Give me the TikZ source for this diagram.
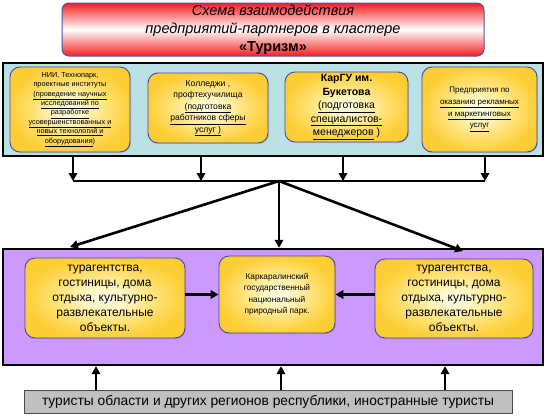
\documentclass[tikz,border=0pt]{standalone}
\usepackage{fontspec}
\setmainfont{Liberation Sans}
\usetikzlibrary{arrows.meta,shadows}
\definecolor{titlered}{RGB}{245,30,30}
\definecolor{titleborder}{RGB}{80,80,180}
\definecolor{topfill}{RGB}{186,226,228}
\definecolor{purplefill}{RGB}{204,153,255}
\definecolor{boxborder}{RGB}{70,70,170}
\definecolor{grayfill}{RGB}{192,192,192}
\pgfdeclareradialshading{goldglow}{\pgfpoint{0bp}{0bp}}{rgb(0bp)=(1,1,0.92); rgb(6bp)=(1,0.97,0.78); rgb(16bp)=(1,0.88,0.45); rgb(25bp)=(0.99,0.81,0.22); rgb(50bp)=(0.98,0.78,0.12)}
\tikzset{
  container/.style={draw=black, line width=2.4pt, inner sep=0pt},
  goldbox/.style={draw=boxborder, line width=0.9pt, rounded corners=10pt, shading=goldglow, align=center, inner sep=1pt, drop shadow={shadow xshift=1pt, shadow yshift=-1pt, opacity=0.3}},
  arr/.style={line width=2.6pt, -{Triangle[length=8pt,width=8.5pt]}},
  busline/.style={line width=2.6pt},
}
\begin{document}
\begin{tikzpicture}[x=1pt,y=-1pt]
\useasboundingbox (0,0) rectangle (545,415);
% title
\node[draw=titleborder, line width=1pt, rounded corners=7pt, top color=titlered, bottom color=titlered, middle color=white, minimum width=422pt, minimum height=53pt, align=center, inner sep=0pt, font=\fontsize{14.5}{18}\selectfont] (title) at (273,29.5)
  {\textit{Схема взаимодействия}\\ \textit{предприятий-партнеров в кластере}\\ \textbf{«Туризм»}};
% top container
\node[container, fill=topfill, minimum width=540pt, minimum height=93pt] (top) at (273,109.5) {};
\node[goldbox, minimum width=120pt, minimum height=85pt, font=\fontsize{7.3}{9.4}\selectfont] (n1) at (70,109.5)
  {НИИ, Технопарк,\\ проектные институты\\ \underline{(проведение научных}\\ \underline{исследований по}\\ \underline{разработке}\\ \underline{усовершенствованных и}\\ \underline{новых технологий и}\\ \underline{оборудования})};
\node[goldbox, minimum width=120pt, minimum height=70pt, font=\fontsize{8.6}{11.5}\selectfont] (n2) at (208,108)
  {Колледжи ,\\ профтехучилища\\ \underline{(подготовка}\\ \underline{работников сферы}\\ \underline{услуг )}};
\node[goldbox, minimum width=123pt, minimum height=70pt, font=\fontsize{10.5}{13.5}\selectfont] (n3) at (346.5,107)
  {\textbf{КарГУ им.}\\ \textbf{Букетова}\\ \underline{(подготовка}\\ \underline{специалистов-}\\ \underline{менеджеров} )};
\node[goldbox, minimum width=115pt, minimum height=85pt, font=\fontsize{8}{11.7}\selectfont] (n4) at (479.5,109.5)
  {Предприятия по\\ \underline{оказанию рекламных}\\ \underline{и маркетинговых}\\ \underline{услуг}};
% bus
\coordinate (b1) at (73,181);
\coordinate (b2) at (201,181);
\coordinate (b3) at (343,181);
\coordinate (b4) at (485,181);
\coordinate (hub) at (279,181);
\draw[busline] (b1) -- (b4);
\foreach \b in {b1,b2,b3,b4} \draw[arr] (\b |- top.south) -- (\b);
% bottom container
\node[container, fill=purplefill, minimum width=540pt, minimum height=116pt] (mid) at (273,307) {};
\coordinate (t1) at (70,247);
\coordinate (t3) at (463,251);
\draw[arr] (hub) -- (t1);
\draw[arr] (hub) -- (hub |- mid.north);
\draw[arr] (hub) -- (t3);
\node[goldbox, minimum width=160pt, minimum height=80pt, font=\fontsize{12}{15}\selectfont] (l) at (105,298)
  {турагентства,\\ гостиницы, дома\\ отдыха, культурно-\\ развлекательные\\ объекты.};
\node[goldbox, minimum width=116pt, minimum height=77pt, font=\fontsize{8.3}{11.5}\selectfont] (c) at (277,294.5)
  {Каркаралинский\\ государственный\\ национальный\\ природный парк.};
\node[goldbox, minimum width=158pt, minimum height=79pt, font=\fontsize{12}{15}\selectfont] (r) at (454,298.5)
  {турагентства,\\ гостиницы, дома\\ отдыха, культурно-\\ развлекательные\\ объекты.};
\draw[arr] (l.east |- c.west) -- (c.west);
\draw[arr] (r.west |- c.east) -- (c.east);
% tourists
\node[draw=black!70, line width=1pt, fill=grayfill, minimum width=488pt, minimum height=23pt, inner sep=0pt, font=\fontsize{13.8}{15}\selectfont, drop shadow={shadow xshift=1pt, shadow yshift=-1pt, opacity=0.3}] (tour) at (268,401.5)
  {туристы области и других регионов республики, иностранные туристы};
\coordinate (u1) at (96,390);
\coordinate (u2) at (281,390);
\coordinate (u3) at (445,390);
\foreach \u in {u1,u2,u3} \draw[arr] (\u |- tour.north) -- (\u |- mid.south);
\end{tikzpicture}
\end{document}
